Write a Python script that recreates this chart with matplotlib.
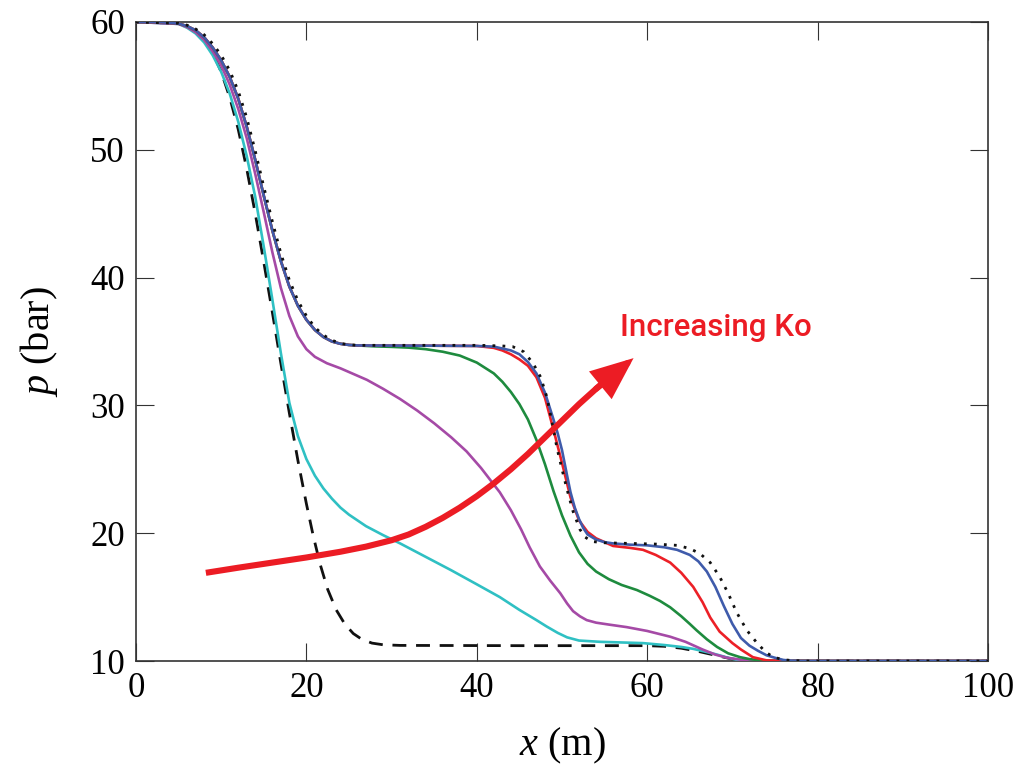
import matplotlib
matplotlib.use("Agg")
import matplotlib.pyplot as plt
from matplotlib import font_manager

# ---------------- data ----------------
head_x = [0, 3, 5, 6, 7, 8, 9, 10, 11, 12, 13, 14, 15, 16, 17, 18, 19, 20, 21, 22, 23, 24, 25, 26]
head_p = [60, 59.98, 59.87, 59.68, 59.35, 58.8, 58.0, 57.0, 55.7, 54.0, 51.8, 49.2, 46.4, 43.7,
          41.3, 39.3, 37.8, 36.7, 35.9, 35.35, 35.0, 34.82, 34.73, 34.69]

blue_x = [30, 35, 40, 42, 44, 45, 46, 47, 48, 49, 49.5, 50, 50.6, 51, 51.5, 52, 52.5, 53, 54, 55,
          56, 58, 60, 62, 63.5, 65, 66, 67, 68, 69, 70, 71, 72, 73, 74, 75, 76, 77, 78, 100]
blue_p = [34.68, 34.67, 34.65, 34.6, 34.3, 34.0, 33.4, 32.5, 31.0, 28.9, 27.8, 26.5, 24.5, 23.2,
          22.0, 21.1, 20.4, 19.9, 19.5, 19.3, 19.2, 19.1, 19.05, 18.9, 18.7, 18.3, 17.8, 17.0, 15.8,
          14.3, 12.9, 11.8, 11.2, 10.8, 10.45, 10.25, 10.08, 10.02, 10.0, 10.0]

red_x = [30, 35, 40, 42, 43, 44, 45, 46, 47, 48, 49, 50, 51, 52, 53, 54, 55, 56, 58, 59.5, 61,
         62.7, 64, 65.4, 66.5, 67.4, 68.5, 70, 71, 72.4, 74, 76, 100]
red_p = [34.68, 34.67, 34.65, 34.5, 34.3, 34.0, 33.6, 33.1, 32.2, 30.6, 28.1, 25.5, 22.8, 21.0,
         20.1, 19.6, 19.3, 19.0, 18.85, 18.7, 18.3, 17.7, 16.9, 15.8, 14.6, 13.4, 12.3, 11.4, 10.9,
         10.3, 10.05, 10.0, 10.0]

green_x = [28, 30, 32, 34, 36, 38, 40, 42, 43, 44, 45, 46, 47, 48, 49, 50, 51, 52, 53, 54, 55.5,
           57, 58.8, 60.3, 61.5, 62.7, 64, 65, 65.8, 67, 68.2, 69.5, 70.9, 72, 73.5, 75, 100]
green_p = [34.62, 34.58, 34.52, 34.4, 34.2, 33.9, 33.35, 32.5, 31.85, 31.05, 30.1, 28.9, 27.3,
           25.4, 23.3, 21.4, 19.8, 18.5, 17.6, 17.0, 16.4, 15.95, 15.55, 15.1, 14.7, 14.2, 13.5,
           12.9, 12.4, 11.7, 11.1, 10.6, 10.3, 10.15, 10.03, 10.0, 10.0]

magenta_x = [0, 5, 6, 7, 8, 9, 10, 11, 12, 13, 14, 15, 16, 17, 18, 19, 20, 21, 22.4, 24, 27.1, 29,
             31, 33, 35, 37, 38.8, 40.5, 42.7, 44, 45.2, 46.2, 47.4, 48.6, 49.8, 50.6, 51.3, 52.1,
             52.9, 54, 55.5, 57.6, 60, 62.7, 64.5, 66.5, 68, 69.4, 71.2, 73, 75, 100]
magenta_p = [60, 59.85, 59.6, 59.2, 58.6, 57.7, 56.6, 55.1, 53.2, 50.9, 48.1, 45.1, 42.0, 39.2,
             37.0, 35.4, 34.4, 33.8, 33.3, 32.9, 32.0, 31.3, 30.5, 29.6, 28.6, 27.5, 26.4, 25.1,
             23.2, 21.8, 20.3, 18.9, 17.4, 16.3, 15.3, 14.5, 13.9, 13.5, 13.2, 13.0, 12.85, 12.65,
             12.35, 11.9, 11.5, 10.9, 10.5, 10.25, 10.08, 10.02, 10.0, 10.0]

cyan_x = [0, 5, 6, 7, 8, 9, 10, 11, 12, 13, 14, 15, 16, 17, 18, 19, 20, 21, 22, 23, 24, 25, 27,
          29, 31, 33, 35, 37, 40, 42.7, 45, 47, 48.2, 49.5, 50.6, 52, 54.5, 57, 59.5, 62, 64, 65.4,
          67, 68.2, 69.5, 70.5, 72, 74, 100]
cyan_p = [60, 59.85, 59.55, 59.1, 58.4, 57.4, 56.1, 54.4, 52.2, 49.5, 46.3, 42.4, 38.3, 34.1, 30.2,
          27.6, 25.8, 24.5, 23.5, 22.7, 22.0, 21.45, 20.55, 19.85, 19.2, 18.5, 17.8, 17.1, 16.0,
          15.0, 14.0, 13.2, 12.7, 12.2, 11.85, 11.6, 11.5, 11.45, 11.4, 11.25, 11.1, 10.95, 10.7,
          10.5, 10.25, 10.1, 10.03, 10.0, 10.0]

dashed_x = [0, 5, 6, 7, 8, 9, 10, 11, 12, 13, 14, 15, 16, 17, 18, 19, 20, 20.8, 21.6, 22.5, 23.5,
            24.5, 25.5, 26.5, 27.7, 29, 31, 45, 55, 60, 62, 64, 66, 68, 70, 72, 74, 100]
dashed_p = [60, 59.88, 59.65, 59.25, 58.6, 57.6, 56.1, 54.1, 51.6, 48.5, 45.0, 41.2, 37.3, 33.3,
            29.4, 25.7, 22.3, 19.8, 17.6, 15.6, 14.0, 12.9, 12.15, 11.7, 11.4, 11.27, 11.22, 11.2,
            11.2, 11.2, 11.15, 11.0, 10.75, 10.45, 10.15, 10.03, 10.0, 10.0]

dotted_x = [0, 5, 6, 7, 8, 9, 10, 11, 12, 13, 14, 15, 16, 17, 18, 19, 20, 21, 22, 23, 24, 25, 26,
            35, 40.4, 43, 44.2, 45.5, 46.6, 47.5, 48.2, 48.8, 49.4, 50, 50.6, 51.3, 52.1, 52.7,
            53.5, 55, 58, 61, 63.5, 65, 66.2, 67.4, 68.5, 69.5, 70.5, 71.7, 72.9, 73.9, 74.8, 76,
            77.1, 79, 100]
dotted_p = [60, 59.9, 59.75, 59.45, 59.0, 58.3, 57.4, 56.2, 54.6, 52.5, 49.9, 47.1, 44.4, 41.9,
            39.8, 38.2, 37.0, 36.1, 35.5, 35.1, 34.85, 34.75, 34.7, 34.7, 34.7, 34.65, 34.6, 34.2,
            33.3, 32.2, 30.7, 28.8, 26.7, 25.0, 23.4, 21.7, 20.3, 19.7, 19.35, 19.25, 19.2, 19.15,
            19.05, 18.8, 18.4, 17.7, 16.6, 15.3, 13.8, 12.4, 11.4, 10.7, 10.3, 10.1, 10.03, 10.0,
            10.0]

arrow_x = [8.2, 12, 16, 20, 24, 27, 30, 32, 34, 36, 38, 40, 42, 44, 46, 48, 50, 52, 54, 55.5]
arrow_p = [16.9, 17.3, 17.7, 18.1, 18.55, 18.95, 19.45, 19.9, 20.5, 21.2, 22.0, 22.9, 23.9, 25.0,
           26.2, 27.5, 28.8, 30.1, 31.3, 32.15]
arrow_tip = (58.4, 33.7)

x_ticks = [0, 20, 40, 60, 80, 100]
y_ticks = [10, 20, 30, 40, 50, 60]

# ---------------- styling ----------------
plt.rcParams['font.family'] = ['Liberation Serif', 'DejaVu Serif']
plt.rcParams['mathtext.fontset'] = 'custom'
plt.rcParams['mathtext.rm'] = 'Liberation Serif'
plt.rcParams['mathtext.it'] = 'Liberation Serif:italic'

names = {f.name for f in font_manager.fontManager.ttflist}
if 'Liberation Sans Narrow' in names:
    anno_font, anno_size, anno_weight = 'Liberation Sans Narrow', 25, 'bold'
else:
    anno_font, anno_size, anno_weight = 'Roboto', 22.5, 'medium'

C_BLUE = '#3f5bab'
C_RED = '#ec2027'
C_GREEN = '#1e8b3e'
C_MAG = '#a54aa6'
C_CYAN = '#2fc0c3'
C_ARROW = '#ec1c24'

fig = plt.figure(figsize=(10.21, 7.70), dpi=100)
ax = fig.add_axes([136 / 1021, 1 - 661 / 770, (988 - 136) / 1021, (661 - 22) / 770])

lw = 1.9
ax.plot(dashed_x, dashed_p, color='#111111', lw=2.0, ls=(0, (5, 3.5)), zorder=2)
ax.plot(cyan_x, cyan_p, color=C_CYAN, lw=lw, zorder=3)
ax.plot(magenta_x, magenta_p, color=C_MAG, lw=lw, zorder=3)
ax.plot(head_x + green_x, head_p + green_p, color=C_GREEN, lw=lw, zorder=3)
ax.plot(head_x + red_x, head_p + red_p, color=C_RED, lw=lw, zorder=3)
ax.plot(head_x + blue_x, head_p + blue_p, color=C_BLUE, lw=lw, zorder=3)
ax.plot(dotted_x, dotted_p, color='#111111', lw=2.0, ls=(0, (1, 2.6)), zorder=4)

# red "increasing Ko" arrow
ax.plot(arrow_x, arrow_p, color=C_ARROW, lw=4.4, solid_capstyle='butt',
        solid_joinstyle='round', zorder=6)
ax.annotate('', xy=arrow_tip, xytext=(arrow_x[-2], arrow_p[-2]),
            arrowprops=dict(arrowstyle='-|>,head_length=1.15,head_width=0.48',
                            color=C_ARROW, lw=4.4, mutation_scale=20,
                            shrinkA=0, shrinkB=0, joinstyle='miter'),
            zorder=6)
ax.text(56.8, 36.1, 'Increasing Ko', color=C_ARROW, family=anno_font,
        fontsize=anno_size, fontweight=anno_weight, va='center', ha='left', zorder=7)

ax.set_xlim(0, 100)
ax.set_ylim(10, 60)
ax.set_xticks(x_ticks)
ax.set_yticks(y_ticks)
ax.tick_params(direction='in', length=13, width=0.8, colors='#333333', labelcolor='black',
               labelsize=25, top=True, right=True, pad=8)
for s in ax.spines.values():
    s.set_color('#333333')
    s.set_linewidth(1.2)

ax.set_xlabel(r'$x$ (m)', fontsize=29, labelpad=15)
ax.set_ylabel(r'$p$ (bar)', fontsize=29, labelpad=22)

fig.savefig('out.png', dpi=100)
